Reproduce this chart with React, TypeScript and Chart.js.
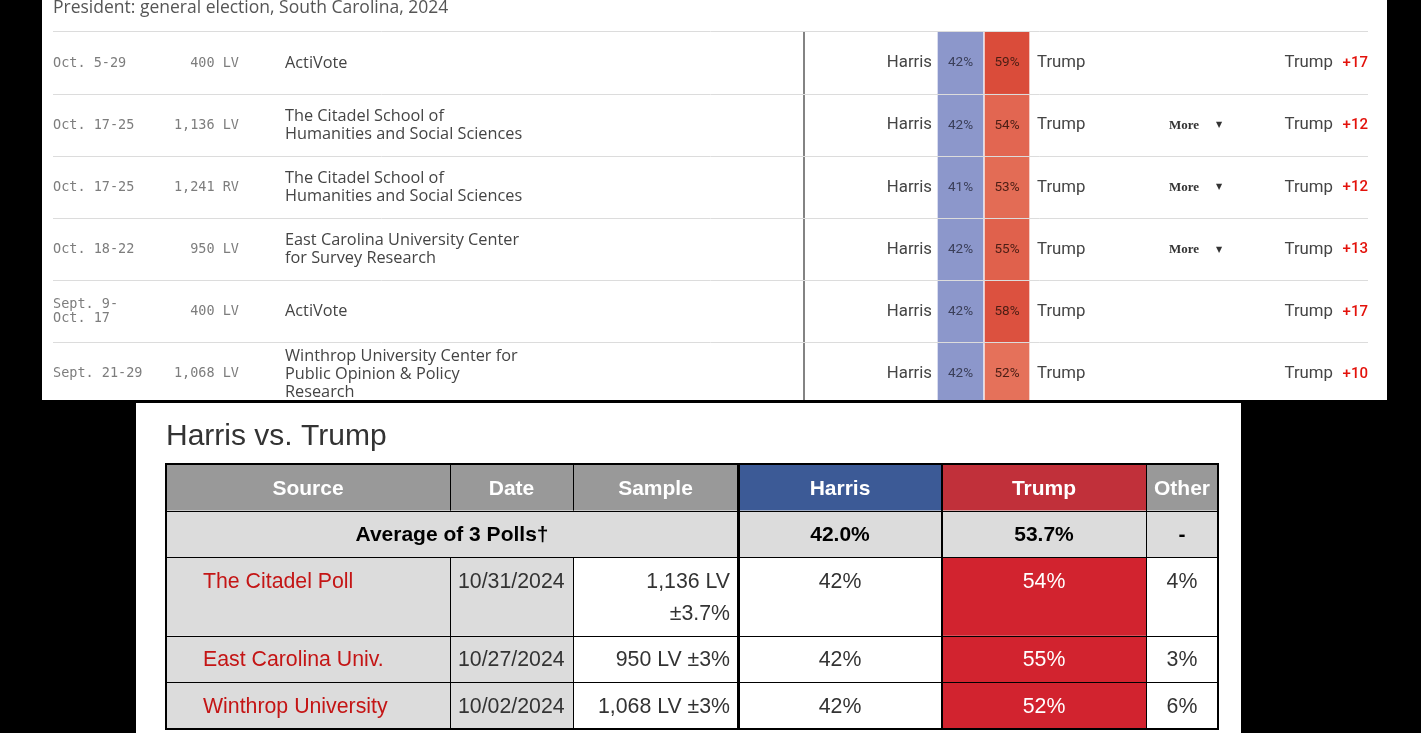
import React, { useEffect, useRef } from "react";
import { Chart, registerables } from "chart.js";
Chart.register(...registerables);

// ---------------- Top table (poll list) data ----------------
const topTitle = "President: general election, South Carolina, 2024";
const pollDates = ["Oct. 5-29", "Oct. 17-25", "Oct. 17-25", "Oct. 18-22", "Sept. 9-\nOct. 17", "Sept. 21-29"];
const pollSamples = ["400 LV", "1,136 LV", "1,241 RV", "950 LV", "400 LV", "1,068 LV"];
const pollsters = [
  "ActiVote",
  "The Citadel School of\nHumanities and Social Sciences",
  "The Citadel School of\nHumanities and Social Sciences",
  "East Carolina University Center\nfor Survey Research",
  "ActiVote",
  "Winthrop University Center for\nPublic Opinion & Policy\nResearch",
];
const harrisPct = [42, 42, 41, 42, 42, 42];
const trumpPct = [59, 54, 53, 55, 58, 52];
const hasMore = [false, true, true, true, false, false];
const leaders = ["Trump", "Trump", "Trump", "Trump", "Trump", "Trump"];
const margins = [17, 12, 12, 13, 17, 10];

// ---------------- Bottom table (RCP style) data ----------------
const rcpTitle = "Harris vs. Trump";
const rcpHeaders = ["Source", "Date", "Sample", "Harris", "Trump", "Other"];
const avgLabel = "Average of 3 Polls†";
const avgHarris = 42.0;
const avgTrump = 53.7;
const avgOther = "-";
const rcpSources = ["The Citadel Poll", "East Carolina Univ.", "Winthrop University"];
const rcpDates = ["10/31/2024", "10/27/2024", "10/02/2024"];
const rcpSamples = [["1,136 LV", "±3.7%"], ["950 LV ±3%"], ["1,068 LV ±3%"]];
const rcpHarris = [42, 42, 42];
const rcpTrump = [54, 55, 52];
const rcpOther = [4, 3, 6];

// ---------------- Layout (positions / styles) ----------------
const TOP_W = 1345;
const TOP_H = 405;
const TOP_X_MAX = 1315;
const TC = {
  date: 0,
  sampleRight: 186,
  pollster: 232,
  divider: 751,
  harrisLabelRight: 879,
  harrisCell: [885, 930],
  trumpCell: [932, 976],
  trumpLabel: 984,
  more: 1116,
  moreArrow: 1163,
  leaderRight: 1280,
  marginRight: 1315,
};

const BOT_W = 1105;
const BOT_H = 330;
const COL_W = [284, 123, 165, 204, 204, 72];
const ROW_LINES = [1, 1, 2, 1, 1];
const ROW_PAD = 15;
const LINE_H = 32;

const cumulative = (arr: number[]) => {
  const out = [0];
  arr.forEach((v) => out.push(out[out.length - 1] + v));
  return out;
};

function redShade(v: number) {
  const t = Math.max(0, Math.min(1, (v - 52) / 7));
  const a = [229, 113, 90];
  const b = [218, 76, 58];
  const c = a.map((ai, k) => Math.round(ai + (b[k] - ai) * t));
  return `rgb(${c[0]},${c[1]},${c[2]})`;
}

function drawLines(ctx: CanvasRenderingContext2D, lines: string[], x: number, cy: number, sp: number) {
  const start = cy - ((lines.length - 1) * sp) / 2;
  lines.forEach((l, k) => ctx.fillText(l, x, start + k * sp));
}

function TopTable() {
  const ref = useRef<HTMLCanvasElement>(null);
  useEffect(() => {
    const canvas = ref.current!;
    const textPlugin = {
      id: "topText",
      afterDatasetsDraw(chart: any) {
        const { ctx, chartArea, scales } = chart;
        const xs = scales.x;
        const ys = scales.y;
        const X = (v: number) => xs.getPixelForValue(v);
        ctx.save();
        ctx.textBaseline = "alphabetic";
        ctx.textAlign = "left";
        ctx.font = '17.5px "Open Sans"';
        ctx.fillStyle = "#555";
        ctx.fillText(topTitle, X(0), 12.5);

        ctx.strokeStyle = "#5a5a5a";
        ctx.lineWidth = 1.5;
        ctx.beginPath();
        ctx.moveTo(X(TC.divider), chartArea.top);
        ctx.lineTo(X(TC.divider), chartArea.bottom);
        ctx.stroke();

        ctx.textBaseline = "middle";
        pollDates.forEach((d, i) => {
          const cy = ys.getPixelForValue(i);
          ctx.font = '13.5px "DejaVu Sans Mono"';
          ctx.fillStyle = "#7d7d7d";
          ctx.textAlign = "left";
          drawLines(ctx, d.split("\n"), X(TC.date), cy, 14);
          ctx.textAlign = "right";
          ctx.fillText(pollSamples[i], X(TC.sampleRight), cy);

          ctx.font = '16.3px "Open Sans"';
          ctx.fillStyle = "#444";
          ctx.textAlign = "left";
          drawLines(ctx, pollsters[i].split("\n"), X(TC.pollster), cy, 18);

          ctx.font = '16.8px Roboto';
          ctx.fillStyle = "#444";
          ctx.textAlign = "right";
          ctx.fillText("Harris", X(TC.harrisLabelRight), cy);
          ctx.textAlign = "left";
          ctx.fillText("Trump", X(TC.trumpLabel), cy);

          ctx.font = '13.5px Roboto';
          ctx.textAlign = "center";
          ctx.fillStyle = "#3a3e58";
          ctx.fillText(harrisPct[i] + "%", X((TC.harrisCell[0] + TC.harrisCell[1]) / 2), cy);
          ctx.fillStyle = "#4a1d14";
          ctx.fillText(trumpPct[i] + "%", X((TC.trumpCell[0] + TC.trumpCell[1]) / 2), cy);

          if (hasMore[i]) {
            ctx.font = 'bold 13px "Liberation Serif"';
            ctx.fillStyle = "#333";
            ctx.textAlign = "left";
            ctx.fillText("More", X(TC.more), cy);
            ctx.font = '8px "DejaVu Sans"';
            ctx.fillText("▼", X(TC.moreArrow), cy);
          }

          ctx.font = '16.8px Roboto';
          ctx.fillStyle = "#444";
          ctx.textAlign = "right";
          ctx.fillText(leaders[i], X(TC.leaderRight), cy);
          ctx.font = '500 15px Roboto';
          ctx.fillStyle = "#e3120b";
          ctx.fillText("+" + margins[i], X(TC.marginRight), cy);
        });
        ctx.restore();
      },
    };

    const chart = new Chart(canvas, {
      type: "bar",
      data: {
        labels: pollDates.map((_, i) => String(i)),
        datasets: [
          {
            label: "Harris",
            data: harrisPct.map(() => [TC.harrisCell[0], TC.harrisCell[1]]) as any,
            backgroundColor: "#8c97cb",
            borderWidth: 0,
          },
          {
            label: "Trump",
            data: trumpPct.map(() => [TC.trumpCell[0], TC.trumpCell[1]]) as any,
            backgroundColor: trumpPct.map(redShade),
            borderWidth: 0,
          },
        ],
      },
      options: {
        indexAxis: "y",
        responsive: false,
        animation: false,
        events: [],
        layout: { padding: { left: 11, right: TOP_W - 11 - TOP_X_MAX, top: 32, bottom: 0 } },
        datasets: { bar: { barPercentage: 1, categoryPercentage: 1, grouped: false } } as any,
        plugins: { legend: { display: false }, tooltip: { enabled: false } },
        scales: {
          x: { type: "linear", display: false, min: 0, max: TOP_X_MAX },
          y: {
            type: "category",
            offset: true,
            grid: { color: "#dcdcdc", lineWidth: 1, drawTicks: false, offset: true, z: 1 } as any,
            border: { display: false },
            ticks: { display: false },
          },
        },
      },
      plugins: [textPlugin],
    });
    return () => chart.destroy();
  }, []);
  return <canvas ref={ref} width={TOP_W} height={TOP_H} style={{ display: "block" }} />;
}

function BottomTable() {
  const ref = useRef<HTMLCanvasElement>(null);
  useEffect(() => {
    const canvas = ref.current!;
    const colE = cumulative(COL_W);
    const rowE = cumulative(ROW_LINES.map((n) => ROW_PAD + n * LINE_H));
    const tablePlugin = {
      id: "rcpTable",
      beforeDatasetsDraw(chart: any) {
        const { ctx, scales } = chart;
        const X = (v: number) => scales.x.getPixelForValue(v);
        const Y = (v: number) => scales.y.getPixelForValue(v);
        ctx.save();
        // title
        ctx.font = '30px "Liberation Sans"';
        ctx.fillStyle = "#333";
        ctx.textAlign = "left";
        ctx.textBaseline = "alphabetic";
        ctx.fillText(rcpTitle, X(0), Y(0) - 19);

        const fill = (c0: number, c1: number, r: number, color: string) => {
          ctx.fillStyle = color;
          ctx.fillRect(X(colE[c0]), Y(rowE[r]), X(colE[c1]) - X(colE[c0]), Y(rowE[r + 1]) - Y(rowE[r]));
        };
        const headerBg = ["#999999", "#999999", "#999999", "#3c5a96", "#c1303a", "#999999"];
        headerBg.forEach((c, k) => fill(k, k + 1, 0, c));
        fill(0, 6, 1, "#dcdcdc");
        for (let r = 2; r < 5; r++) {
          fill(0, 2, r, "#dcdcdc");
          fill(2, 4, r, "#ffffff");
          fill(4, 5, r, "#d2232f");
          fill(5, 6, r, "#ffffff");
        }

        // lines
        ctx.strokeStyle = "#000";
        const hLine = (r: number, w: number) => {
          const y = Math.round(Y(rowE[r])) + (w % 2 ? 0.5 : 0);
          ctx.lineWidth = w;
          ctx.beginPath();
          ctx.moveTo(X(0), y);
          ctx.lineTo(X(colE[6]), y);
          ctx.stroke();
        };
        for (let r = 1; r < 5; r++) hLine(r, 1);
        const vWidths = [0, 1, 1, 3, 2, 1, 0];
        for (let c = 1; c < 6; c++) {
          const w = vWidths[c];
          const x = Math.round(X(colE[c])) + (w % 2 ? 0.5 : 0);
          ctx.lineWidth = w;
          ctx.beginPath();
          if (c <= 2) {
            ctx.moveTo(x, Y(rowE[0]));
            ctx.lineTo(x, Y(rowE[1]));
            ctx.moveTo(x, Y(rowE[2]));
            ctx.lineTo(x, Y(rowE[5]));
          } else {
            ctx.moveTo(x, Y(rowE[0]));
            ctx.lineTo(x, Y(rowE[5]));
          }
          ctx.stroke();
        }
        ctx.lineWidth = 2;
        ctx.strokeRect(Math.round(X(0)), Math.round(Y(0)), Math.round(X(colE[6]) - X(0)), Math.round(Y(rowE[5]) - Y(0)));

        // header text
        ctx.textBaseline = "middle";
        ctx.textAlign = "center";
        ctx.font = 'bold 21px "Liberation Sans"';
        ctx.fillStyle = "#fff";
        rcpHeaders.forEach((h, k) => {
          ctx.fillText(h, X((colE[k] + colE[k + 1]) / 2), Y((rowE[0] + rowE[1]) / 2) + 1.5);
        });
        // average row
        ctx.fillStyle = "#000";
        const ay = Y((rowE[1] + rowE[2]) / 2) + 1;
        ctx.fillText(avgLabel, X((colE[0] + colE[3]) / 2), ay);
        ctx.fillText(avgHarris.toFixed(1) + "%", X((colE[3] + colE[4]) / 2), ay);
        ctx.fillText(avgTrump.toFixed(1) + "%", X((colE[4] + colE[5]) / 2), ay);
        ctx.fillText(avgOther, X((colE[5] + colE[6]) / 2), ay);

        // data rows
        ctx.font = '21.3px "Liberation Sans"';
        rcpSources.forEach((s, i) => {
          const top = rowE[i + 2];
          const ly = (k: number) => Y(top + ROW_PAD / 2 + LINE_H / 2 + k * LINE_H) + 1.5;
          ctx.textAlign = "left";
          ctx.fillStyle = "#c41515";
          ctx.fillText(s, X(colE[0] + 37), ly(0));
          ctx.fillStyle = "#333";
          ctx.fillText(rcpDates[i], X(colE[1] + 8), ly(0));
          ctx.textAlign = "right";
          rcpSamples[i].forEach((line, k) => ctx.fillText(line, X(colE[3] - 8), ly(k)));
          ctx.textAlign = "center";
          ctx.fillText(rcpHarris[i] + "%", X((colE[3] + colE[4]) / 2), ly(0));
          ctx.fillStyle = "#fff";
          ctx.fillText(rcpTrump[i] + "%", X((colE[4] + colE[5]) / 2), ly(0));
          ctx.fillStyle = "#333";
          ctx.fillText(rcpOther[i] + "%", X((colE[5] + colE[6]) / 2), ly(0));
        });
        ctx.restore();
      },
    };
    const chart = new Chart(canvas, {
      type: "scatter",
      data: { datasets: [{ data: [] }] },
      options: {
        responsive: false,
        animation: false,
        events: [],
        layout: { padding: { left: 30, right: BOT_W - 30 - 1052, top: 61, bottom: 4 } },
        plugins: { legend: { display: false }, tooltip: { enabled: false } },
        scales: {
          x: { type: "linear", display: false, min: 0, max: colE[6] },
          y: { type: "linear", display: false, min: 0, max: rowE[5], reverse: true },
        },
      },
      plugins: [tablePlugin],
    });
    return () => chart.destroy();
  }, []);
  return <canvas ref={ref} width={BOT_W} height={BOT_H} style={{ display: "block" }} />;
}

export default function App() {
  return (
    <div style={{ position: "fixed", left: 0, top: 0, width: 1421, height: 733, background: "#000", overflow: "hidden" }}>
      <div style={{ position: "absolute", left: 42, top: 0, width: TOP_W, height: 400, background: "#fff", overflow: "hidden" }}>
        <TopTable />
      </div>
      <div style={{ position: "absolute", left: 136, top: 403, width: BOT_W, height: BOT_H, background: "#fff", overflow: "hidden" }}>
        <BottomTable />
      </div>
    </div>
  );
}
